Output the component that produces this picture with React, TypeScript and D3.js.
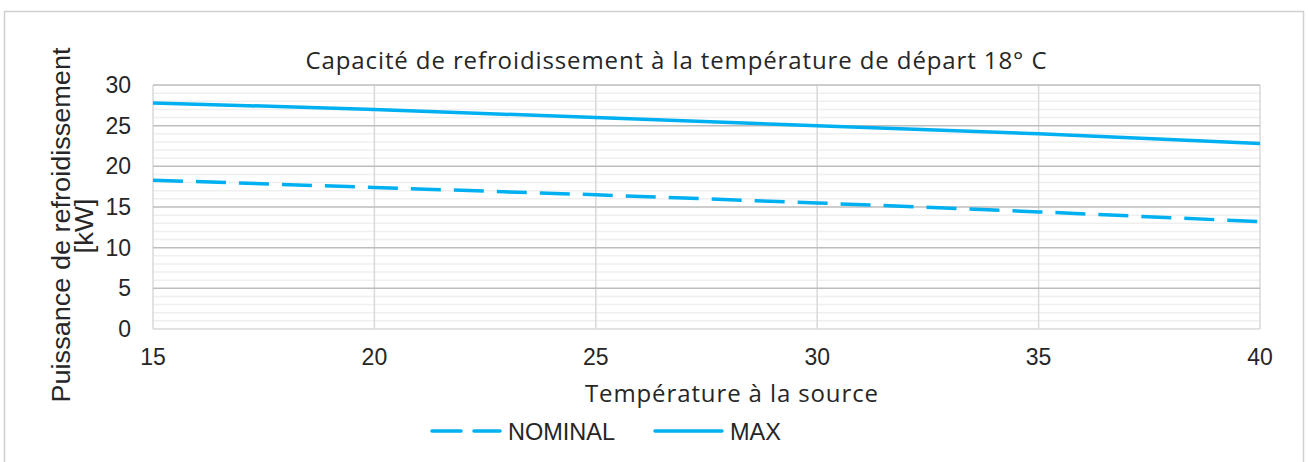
import React from "react";
import * as d3 from "d3";

const temps = [15, 20, 25, 30, 35, 40];
const nominal = [18.3, 17.4, 16.5, 15.5, 14.4, 13.2];
const maxVals = [27.8, 27.0, 26.0, 25.0, 24.0, 22.8];
const yTicks = [0, 5, 10, 15, 20, 25, 30];
const xTicks = [15, 20, 25, 30, 35, 40];
const title = "Capacité de refroidissement à la température de départ 18° C";
const yTitle1 = "Puissance de refroidissement";
const yTitle2 = "[kW]";
const xTitle = "Température à la source";
const seriesNames = ["NOMINAL", "MAX"];

const W = 1308, H = 462;
const left = 153, right = 1260, top = 85, bottom = 329;
const color = "#00b0f0";
const txt = "#262626";

export default function App() {
  const x = d3.scaleLinear().domain([15, 40]).range([left, right]);
  const y = d3.scaleLinear().domain([0, 30]).range([bottom, top]);
  const line = d3.line<number>().x((_, i) => x(temps[i])).y((d) => y(d));
  const minor = d3.range(0, 30.01, 1).filter((v) => v % 5 !== 0);
  const labelFont = "Liberation Sans, Arial, sans-serif";
  const titleFont = "Open Sans, sans-serif";
  return (
    <svg width={W} height={H} style={{ position: "absolute", left: 0, top: 0 }}>
      <rect x={0} y={0} width={W} height={H} fill="#fff" />
      <rect x={4.5} y={11.5} width={1299} height={460} fill="none" stroke="#d0d0d0" strokeWidth={1.5} />
      <text x={676} y={68.5} textAnchor="middle" fontFamily={titleFont} fontSize={24} fill={txt} textLength={741} lengthAdjust="spacing">{title}</text>
      {minor.map((v) => (
        <line key={"m" + v} x1={left} x2={right} y1={y(v)} y2={y(v)} stroke="#efefef" strokeWidth={1.5} />
      ))}
      {xTicks.map((v) => (
        <line key={"v" + v} x1={x(v)} x2={x(v)} y1={top} y2={bottom} stroke="#d9d9d9" strokeWidth={1.5} />
      ))}
      {yTicks.map((v) => (
        <line key={"h" + v} x1={left} x2={right} y1={y(v)} y2={y(v)} stroke={v === 0 ? "#d9d9d9" : "#bdbdbd"} strokeWidth={1.5} />
      ))}
      <path d={line(maxVals) || ""} fill="none" stroke={color} strokeWidth={3.5} />
      <path d={line(nominal) || ""} fill="none" stroke={color} strokeWidth={3.5} strokeDasharray="30 13" />
      {yTicks.map((v) => (
        <text key={"yt" + v} x={131} y={y(v) + 8} textAnchor="end" fontFamily={labelFont} fontSize={23} fill={txt}>{v}</text>
      ))}
      {xTicks.map((v) => (
        <text key={"xt" + v} x={x(v)} y={365} textAnchor="middle" fontFamily={labelFont} fontSize={23} fill={txt}>{v}</text>
      ))}
      <g transform="translate(70,225) rotate(-90)">
        <text x={0} y={0} textAnchor="middle" fontFamily={labelFont} fontSize={25} fill={txt} textLength={355} lengthAdjust="spacingAndGlyphs">{yTitle1}</text>
      </g>
      <g transform="translate(93,226) rotate(-90)">
        <text x={0} y={0} textAnchor="middle" fontFamily={labelFont} fontSize={25} fill={txt} textLength={55} lengthAdjust="spacingAndGlyphs">{yTitle2}</text>
      </g>
      <text x={731.5} y={401.5} textAnchor="middle" fontFamily={titleFont} fontSize={24} fill={txt} textLength={293} lengthAdjust="spacing">{xTitle}</text>
      <line x1={432} x2={500} y1={431} y2={431} stroke={color} strokeWidth={3.5} strokeDasharray="29 13" strokeLinecap="round" />
      <text x={508} y={440} fontFamily={labelFont} fontSize={23.5} fill={txt}>{seriesNames[0]}</text>
      <line x1={655} x2={722} y1={431} y2={431} stroke={color} strokeWidth={3.5} strokeLinecap="round" />
      <text x={730} y={440} fontFamily={labelFont} fontSize={23.5} fill={txt}>{seriesNames[1]}</text>
    </svg>
  );
}
